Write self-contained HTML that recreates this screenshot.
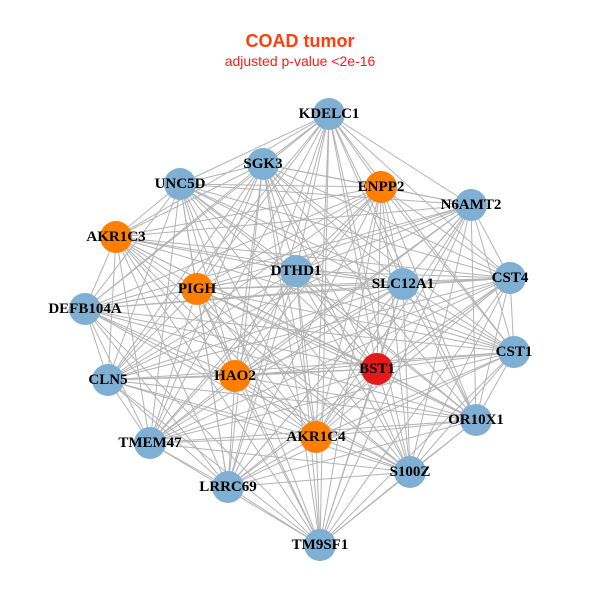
<!DOCTYPE html>
<html><head><meta charset="utf-8"><style>
html,body{margin:0;padding:0;background:#fff;}
svg{display:block;}
.l{font-family:"Liberation Serif",serif;font-weight:bold;font-size:15px;fill:#000;text-anchor:middle;dominant-baseline:central;}
</style></head><body>
<svg id="s" width="600" height="600" viewBox="0 0 600 600">
<rect width="600" height="600" fill="#fff"/>
<text x="300" y="47" font-family="Liberation Sans, sans-serif" font-weight="bold" font-size="18" fill="#ff3d0d" text-anchor="middle">COAD tumor</text>
<text x="300" y="66" font-family="Liberation Sans, sans-serif" font-size="14" fill="#ff1a1a" text-anchor="middle">adjusted p-value &lt;2e-16</text>
<g id="e" stroke="#b3b3b3" stroke-width="1"></g>
<g id="n"></g>
</svg>
<script>
var B="#7fb0d4",O="#ff7f00",R="#e31a1c";
var N=[["KDELC1",329,114,B],["SGK3",263,164,B],["UNC5D",180,184,B],["ENPP2",381,187,O],["N6AMT2",471,205,B],["AKR1C3",116,237,O],["DTHD1",296,271,B],["SLC12A1",403,284,B],["CST4",510,278,B],["PIGH",197,289,O],["DEFB104A",85,309,B],["CST1",514,352,B],["BST1",377,369,R],["CLN5",108,380,B],["HAO2",235,376,O],["OR10X1",476,420,B],["AKR1C4",316,437,O],["TMEM47",150,443,B],["S100Z",410,472,B],["LRRC69",228,487,B],["TM9SF1",320,545,B]];
var ns="http://www.w3.org/2000/svg",e=document.getElementById("e"),g=document.getElementById("n");
for(var i=0;i<N.length;i++)for(var j=i+1;j<N.length;j++){var l=document.createElementNS(ns,"line");l.setAttribute("x1",N[i][1]);l.setAttribute("y1",N[i][2]);l.setAttribute("x2",N[j][1]);l.setAttribute("y2",N[j][2]);e.appendChild(l);}
N.forEach(function(d){var c=document.createElementNS(ns,"circle");c.setAttribute("cx",d[1]);c.setAttribute("cy",d[2]);c.setAttribute("r",16);c.setAttribute("fill",d[3]);g.appendChild(c);});
N.forEach(function(d){var t=document.createElementNS(ns,"text");t.setAttribute("x",d[1]);t.setAttribute("y",d[2]);t.setAttribute("class","l");t.textContent=d[0];g.appendChild(t);});
</script>
</body></html>
